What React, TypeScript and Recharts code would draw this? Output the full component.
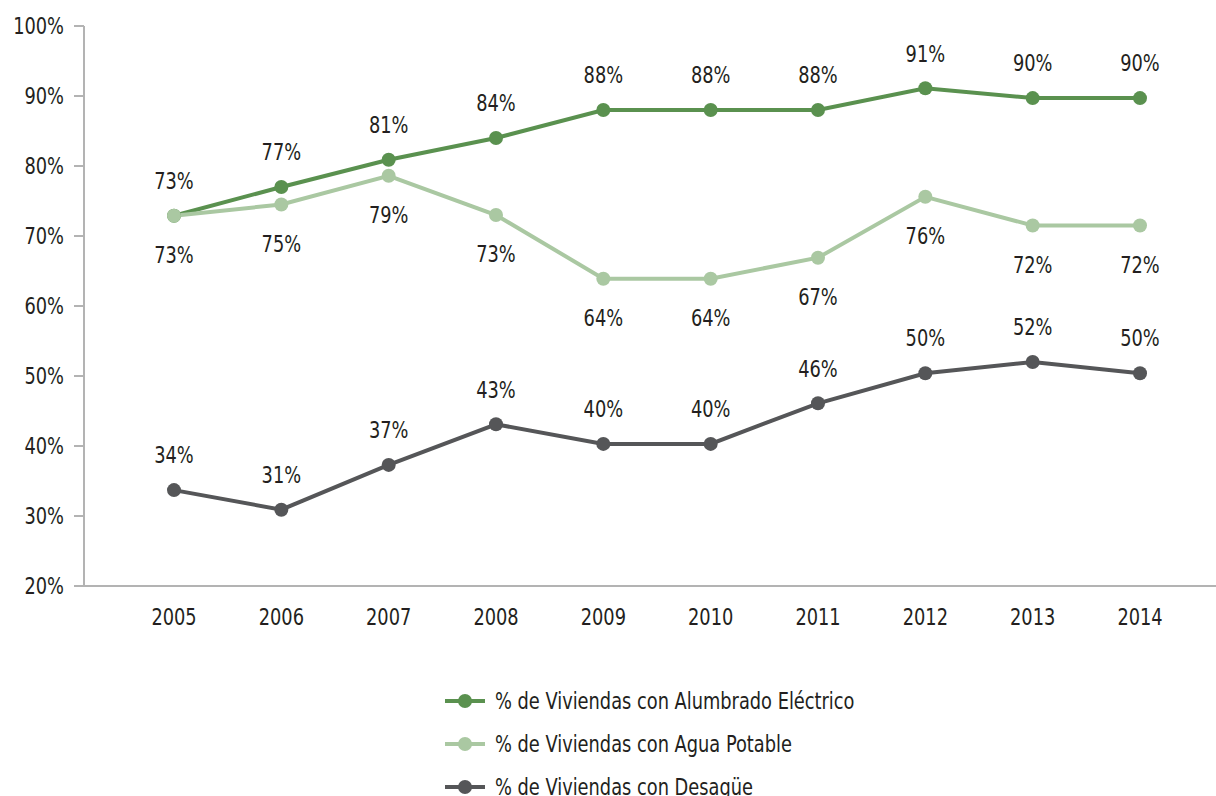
import React from 'react'
import { LineChart, Line, XAxis, YAxis, Legend, LabelList } from 'recharts'

const years = ['2005', '2006', '2007', '2008', '2009', '2010', '2011', '2012', '2013', '2014']
const alumbrado = [72.9, 77.0, 80.9, 84.0, 88.0, 88.0, 88.0, 91.1, 89.7, 89.7]
const agua = [72.9, 74.5, 78.6, 73.0, 63.9, 63.9, 66.9, 75.6, 71.5, 71.5]
const desague = [33.7, 30.9, 37.3, 43.1, 40.3, 40.3, 46.1, 50.4, 52.0, 50.4]
const yTicks = [20, 30, 40, 50, 60, 70, 80, 90, 100]

const SERIES = [
  { key: 'alumbrado', name: '% de Viviendas con Alumbrado Eléctrico', color: '#5a914f', pos: 'top' },
  { key: 'agua', name: '% de Viviendas con Agua Potable', color: '#aac8a2', pos: 'bottom' },
  { key: 'desague', name: '% de Viviendas con Desagüe', color: '#555658', pos: 'top' },
]

const data = years.map((year, i) => ({
  year,
  alumbrado: alumbrado[i],
  agua: agua[i],
  desague: desague[i],
}))

const FONT = "'DejaVu Sans Condensed', 'DejaVu Sans', sans-serif"
const TEXT = '#231f20'
const SIZE = 23
const SQUEEZE = 0.86

// condensed text: the installed fonts are too wide, so squeeze horizontally
function NarrowText({ x, y, anchor, children }: any) {
  return (
    <text
      transform={`translate(${x},${y}) scale(${SQUEEZE},1)`}
      textAnchor={anchor}
      dy="0.36em"
      fontSize={SIZE}
      fontFamily={FONT}
      fill={TEXT}
    >
      {children}
    </text>
  )
}

function YTick({ x, y, payload }: any) {
  return <NarrowText x={x + 2} y={y} anchor="end">{`${payload.value}%`}</NarrowText>
}

function XTick({ x, y, payload }: any) {
  return <NarrowText x={x} y={617} anchor="middle">{payload.value}</NarrowText>
}

function makeLabel(pos: string) {
  return (props: any) => {
    const { x, y, value } = props
    const cy = pos === 'top' ? y - 35 : y + 39
    return <NarrowText x={x} y={cy} anchor="middle">{`${Math.round(value)}%`}</NarrowText>
  }
}

function LegendBox() {
  return (
    <div style={{ position: 'relative', height: 150 }}>
      {SERIES.map((s, i) => (
        <div
          key={s.key}
          style={{
            position: 'absolute',
            left: 445,
            top: 42 + i * 43,
            display: 'flex',
            alignItems: 'center',
            whiteSpace: 'nowrap',
          }}
        >
          <svg width={50} height={20}>
            <line x1={0} y1={10} x2={40} y2={10} stroke={s.color} strokeWidth={4} />
            <circle cx={20} cy={10} r={7} fill={s.color} />
          </svg>
          <span
            style={{
              fontFamily: FONT,
              fontSize: SIZE,
              color: TEXT,
              display: 'inline-block',
              transform: `scaleX(${SQUEEZE})`,
              transformOrigin: 'left center',
            }}
          >
            {s.name}
          </span>
        </div>
      ))}
    </div>
  )
}

export default function App() {
  return (
    <div style={{ position: 'absolute', left: 0, top: 0, background: '#fff' }}>
      <LineChart width={1216} height={796} data={data} margin={{ top: 26, right: 0, bottom: 0, left: 0 }}>
        <XAxis
          dataKey="year"
          padding={{ left: 90, right: 76 }}
          tickLine={false}
          axisLine={{ stroke: '#b3b3b3', strokeWidth: 2 }}
          tick={<XTick />}
          height={60}
        />
        <YAxis
          domain={[20, 100]}
          ticks={yTicks}
          width={84}
          tick={<YTick />}
          axisLine={{ stroke: '#b3b3b3', strokeWidth: 2 }}
          tickLine={{ stroke: '#b3b3b3', strokeWidth: 2 }}
          tickSize={10}
          tickMargin={12}
        />
        <Legend verticalAlign="bottom" height={150} content={() => <LegendBox />} />
        {SERIES.map((s) => (
          <Line
            key={s.key}
            dataKey={s.key}
            name={s.name}
            stroke={s.color}
            strokeWidth={4}
            dot={{ r: 7, fill: s.color, stroke: 'none' }}
            activeDot={false}
            isAnimationActive={false}
          >
            <LabelList dataKey={s.key} content={makeLabel(s.pos)} />
          </Line>
        ))}
      </LineChart>
    </div>
  )
}
